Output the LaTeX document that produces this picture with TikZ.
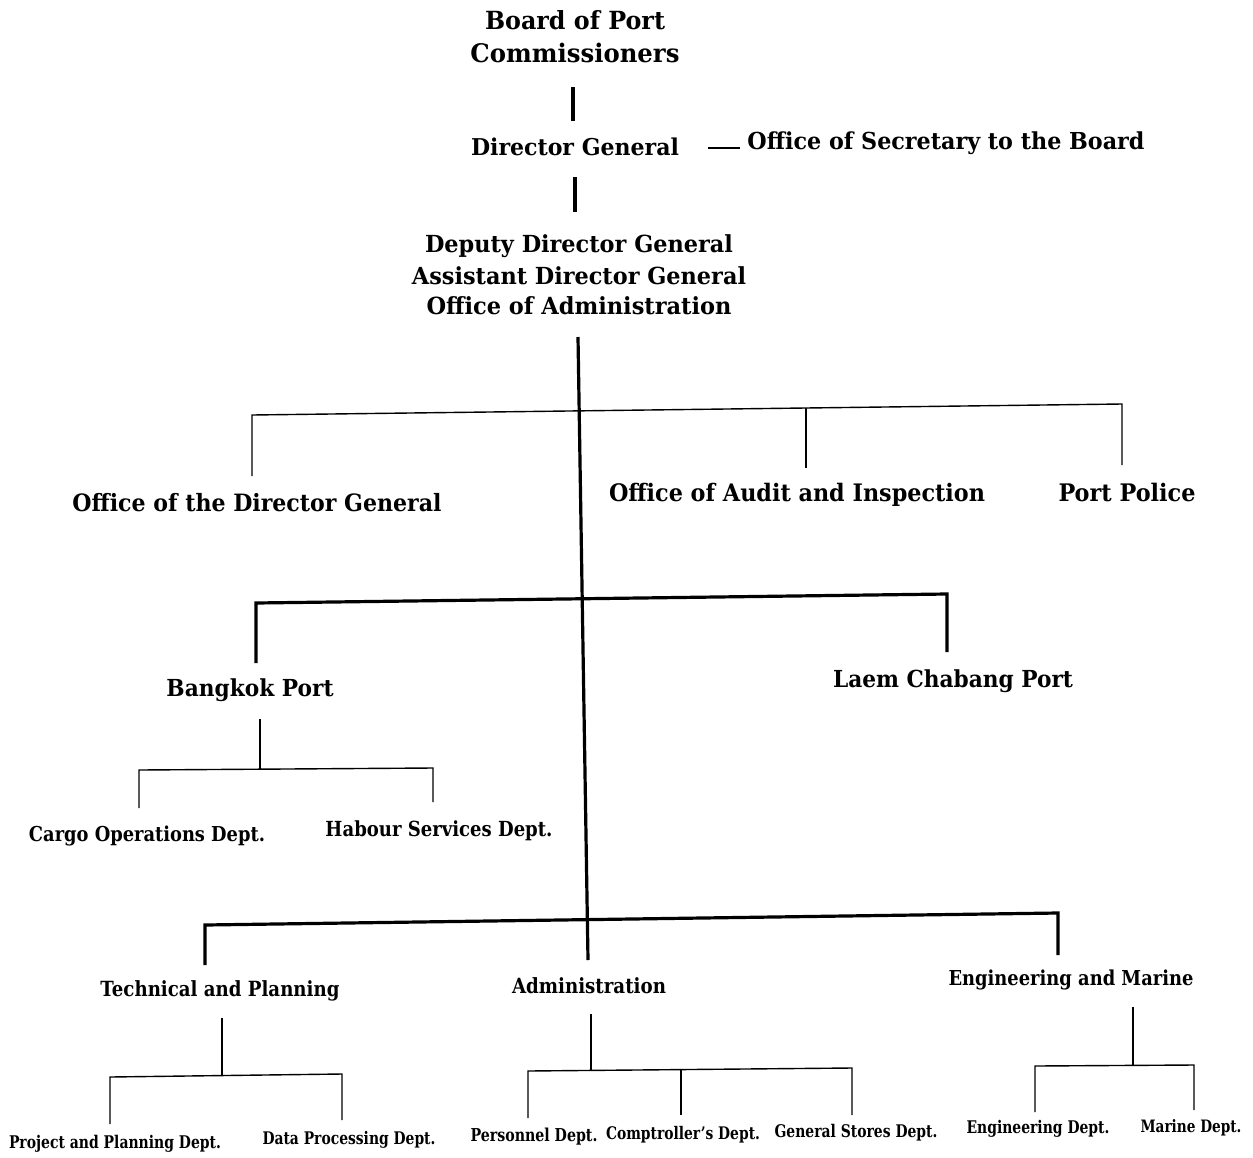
\documentclass[tikz,border=0pt]{standalone}
\usepackage{fontspec}
\setmainfont{DejaVu Serif}
\newlength\pxu
\setlength\pxu{0.5pt}
\newcommand{\fw}[3][1]{\scalebox{1}[#1]{\resizebox{#2\pxu}{!}{\bfseries #3}}}
\begin{document}
\begin{tikzpicture}[x=0.5pt,y=-0.5pt,
  lbl/.style={inner sep=0pt,outer sep=0pt,anchor=center},
  thinl/.style={line width=0.7pt,line cap=butt},
  thickl/.style={line width=1.6pt,line cap=butt},
  midl/.style={line width=1.6pt,line cap=butt}]
\useasboundingbox (0,0) rectangle (1253,1157);
% top
\node[lbl] (board) at (575,20) {\fw[1.05]{180}{Board of Port}};
\node[lbl] (comm) at (575,53) {\fw[1.05]{209}{Commissioners}};
\node[lbl] (dg) at (575,147) {\fw[1.05]{208}{Director General}};
\node[lbl] (sec) at (946,143) {\fw[1.05]{397}{Office of Secretary to the Board}};
\node[lbl] (ddg) at (579,246) {\fw[1.05]{308}{Deputy Director General}};
\node[lbl] (adg) at (579,276) {\fw[1.05]{334}{Assistant Director General}};
\node[lbl] (oadm) at (579,306) {\fw[1.05]{305}{Office of Administration}};
\coordinate (v1a) at (573,87); \coordinate (v1b) at (573,121);
\coordinate (v2a) at (575,177); \coordinate (v2b) at (575,212);
\coordinate (sd1) at (708,148); \coordinate (sd2) at (740,148);
\draw[midl] (v1a) -- (v1b);
\draw[midl] (v2a) -- (v2b);
\draw[thinl] (sd1) -- (sd2);
% trunk
\coordinate (trA) at (578,337); \coordinate (trB) at (588,960);
\draw[thickl] (trA) -- (trB);
% staff row
\node[lbl] (odg) at (257,503) {\fw[1.08]{369}{Office of the Director General}};
\node[lbl] (oai) at (797,495) {\fw[1.08]{376}{Office of Audit and Inspection}};
\node[lbl] (pp) at (1127,492) {\fw[1.08]{137}{Port Police}};
\coordinate (s1) at (252,415); \coordinate (s1d) at (252,476);
\coordinate (s2) at (806,408); \coordinate (s2d) at (806,468);
\coordinate (s3) at (1122,404); \coordinate (s3d) at (1122,465);
\draw[thinl] (s1d) -- (s1) -- (s3) -- (s3d);
\draw[thinl] (s2) -- (s2d);
% ports
\node[lbl] (bkk) at (250,690) {\fw[1.08]{167}{Bangkok Port}};
\node[lbl] (lcb) at (953,681) {\fw[1.08]{240}{Laem Chabang Port}};
\coordinate (p1) at (256,603); \coordinate (p1d) at (256,663);
\coordinate (p2) at (947,594); \coordinate (p2d) at (947,652);
\draw[thickl] (p1d) -- (p1) -- (p2) -- (p2d);
% bangkok sub
\node[lbl] (cargo) at (147,836) {\fw[1.15]{236}{Cargo Operations Dept.}};
\node[lbl] (hab) at (439,831) {\fw[1.15]{227}{Habour Services Dept.}};
\coordinate (b0) at (260,719); \coordinate (b0d) at (260,770);
\coordinate (b1) at (139,770); \coordinate (b1d) at (139,808);
\coordinate (b2) at (433,768); \coordinate (b2d) at (433,802);
\draw[thinl] (b0) -- (b0d);
\draw[thinl] (b1d) -- (b1) -- (b2) -- (b2d);
% departments
\node[lbl] (tp) at (220,991) {\fw[1.15]{239}{Technical and Planning}};
\node[lbl] (adm) at (589,986) {\fw[1.15]{154}{Administration}};
\node[lbl] (em) at (1071,980) {\fw[1.15]{245}{Engineering and Marine}};
\coordinate (d1) at (205,925); \coordinate (d1d) at (205,965);
\coordinate (d3) at (1058,913); \coordinate (d3d) at (1058,955);
\draw[thickl] (d1d) -- (d1) -- (d3) -- (d3d);
% technical sub
\node[lbl] (ppd) at (115,1144) {\fw[1.25]{212}{Project and Planning Dept.}};
\node[lbl] (dpd) at (349,1140) {\fw[1.25]{173}{Data Processing Dept.}};
\coordinate (t0) at (222,1018); \coordinate (t0d) at (222,1075);
\coordinate (t1) at (110,1077); \coordinate (t1d) at (110,1124);
\coordinate (t2) at (342,1074); \coordinate (t2d) at (342,1120);
\draw[thinl] (t0) -- (t0d);
\draw[thinl] (t1d) -- (t1) -- (t2) -- (t2d);
% admin sub
\node[lbl] (pers) at (534,1137) {\fw[1.25]{127}{Personnel Dept.}};
\node[lbl] (comp) at (683,1135) {\fw[1.25]{154}{Comptroller's Dept.}};
\node[lbl] (gsd) at (856,1133) {\fw[1.25]{163}{General Stores Dept.}};
\coordinate (a0) at (591,1014); \coordinate (a0d) at (591,1070);
\coordinate (a1) at (528,1071); \coordinate (a1d) at (528,1118);
\coordinate (a2) at (681,1070); \coordinate (a2d) at (681,1115);
\coordinate (a3) at (852,1068); \coordinate (a3d) at (852,1115);
\draw[thinl] (a0) -- (a0d);
\draw[thinl] (a1d) -- (a1) -- (a3) -- (a3d);
\draw[thinl] (a2) -- (a2d);
% engineering sub
\node[lbl] (engd) at (1038,1129) {\fw[1.25]{143}{Engineering Dept.}};
\node[lbl] (mard) at (1191,1128) {\fw[1.25]{101}{Marine Dept.}};
\coordinate (e0) at (1133,1007); \coordinate (e0d) at (1133,1065);
\coordinate (e1) at (1035,1066); \coordinate (e1d) at (1035,1112);
\coordinate (e2) at (1194,1065); \coordinate (e2d) at (1194,1110);
\draw[thinl] (e0) -- (e0d);
\draw[thinl] (e1d) -- (e1) -- (e2) -- (e2d);
\end{tikzpicture}
\end{document}
